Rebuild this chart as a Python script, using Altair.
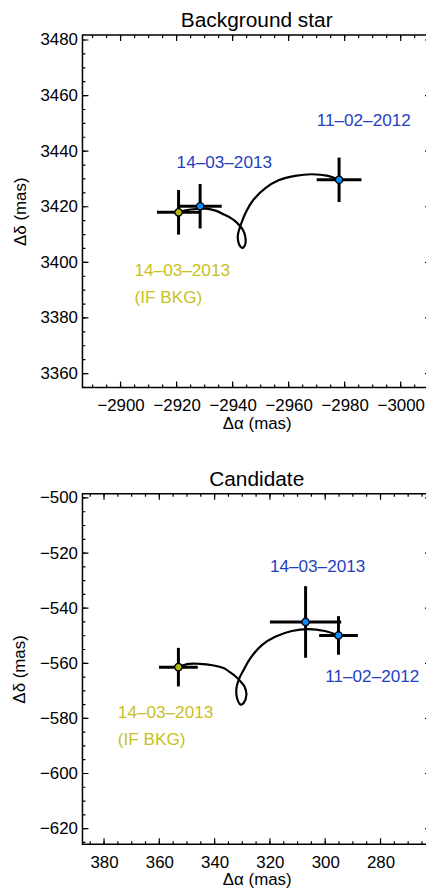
import altair as alt
import pandas as pd

FONT = "Liberation Sans"
BLUE_TXT = "#1f3fbf"
BLUE_PT = "#0a8cff"
YEL_TXT = "#c9c020"
YEL_PT = "#b5b51a"

W = 351

# ---------------- Background star ----------------
bg_title = "Background star"
bg_kind = ["obs", "obs", "bkg"]
bg_ra = [-2978.0, -2928.4, -2920.7]
bg_dec = [3429.7, 3420.2, 3418.0]
bg_ra_err = [8.0, 7.7, 7.7]
bg_dec_err = [8.0, 8.0, 8.0]

bg_track_ra = [-2977.9, -2974.1, -2968.2, -2962.3, -2956.4, -2951.7, -2947.5, -2945.0,
               -2943.6, -2942.7, -2941.9, -2942.0, -2942.7, -2943.6, -2944.5, -2944.5,
               -2943.6, -2941.5, -2939.4, -2936.9, -2933.9, -2930.4, -2926.8, -2923.3, -2920.7]
bg_track_dec = [3429.7, 3431.1, 3431.7, 3431.1, 3429.5, 3426.7, 3422.6, 3418.6,
                3415.4, 3412.9, 3410.0, 3407.5, 3405.8, 3405.2, 3406.5, 3409.3,
                3411.8, 3414.3, 3415.9, 3417.2, 3418.6, 3419.3, 3419.2, 3418.7, 3418.0]

bg_lbl_text = ["11–02–2012", "14–03–2013", "14–03–2013", "(IF BKG)"]
bg_lbl_kind = ["obs", "obs", "bkg", "bkg"]
bg_lbl_ra = [-2970.0, -2920.0, -2905.0, -2905.0]
bg_lbl_dec = [3450.7, 3435.8, 3396.9, 3387.0]

bg_xdom = [-3010.8, -2886.4]
bg_ydom = [3355.0, 3481.8]
bg_xticks = [-3000, -2980, -2960, -2940, -2920, -2900]
bg_yticks = [3360, 3380, 3400, 3420, 3440, 3460, 3480]
bg_xminor = list(range(-3010, -2885, 5))
bg_yminor = list(range(3355, 3481, 5))

# ---------------- Candidate ----------------
cd_title = "Candidate"
cd_kind = ["obs", "obs", "bkg"]
cd_ra = [295.2, 307.1, 353.1]
cd_dec = [-549.9, -545.0, -561.4]
cd_ra_err = [7.0, 12.9, 7.0]
cd_dec_err = [7.0, 13.0, 7.0]

cd_track_ra = [295.1, 300.1, 306.1, 312.1, 318.1, 322.9, 327.1, 329.5, 331.3, 332.1,
               331.9, 330.6, 329.5, 328.5, 329.2, 330.6, 332.4, 334.8, 336.6, 340.8,
               345.6, 349.2, 353.1]
cd_track_dec = [-549.9, -548.3, -547.6, -548.3, -550.4, -553.4, -558.2, -562.4, -566.0,
                -569.0, -572.6, -575.0, -574.4, -571.4, -568.4, -566.6, -564.8, -563.0,
                -561.8, -560.7, -560.2, -560.2, -561.2]

cd_lbl_text = ["14–03–2013", "11–02–2012", "14–03–2013", "(IF BKG)"]
cd_lbl_kind = ["obs", "obs", "bkg", "bkg"]
cd_lbl_ra = [320.0, 300.0, 375.0, 375.0]
cd_lbl_dec = [-525.0, -565.0, -578.0, -588.0]

cd_xdom = [261.75, 387.8]
cd_ydom = [-625.65, -498.45]
cd_xticks = [280, 300, 320, 340, 360, 380]
cd_yticks = [-620, -600, -580, -560, -540, -520, -500]
cd_xminor = list(range(265, 386, 5))
cd_yminor = list(range(-625, -499, 5))


def panel(title, H, kind, ra, dec, era, edec, tra, tdec, ltxt, lkind, lra, ldec,
          xdom, ydom, xticks, yticks, xminor, yminor):
    xs = alt.Scale(domain=xdom, reverse=True, nice=False, zero=False)
    ys = alt.Scale(domain=ydom, nice=False, zero=False)
    xax = alt.Axis(values=xticks, format="d", ticks=False, domain=False, grid=False,
                   labelPadding=10, titlePadding=2, labelFlush=False, title="Δα (mas)")
    yax = alt.Axis(values=yticks, format="d", ticks=False, domain=False, grid=False,
                   labelPadding=5, titlePadding=11, labelFlush=False, title="Δδ (mas)")

    pts = pd.DataFrame({"ra": ra, "dec": dec, "era": era, "edec": edec, "kind": kind})
    trk = pd.DataFrame({"ra": tra, "dec": tdec, "i": list(range(len(tra)))})
    lbl = pd.DataFrame({"ra": lra, "dec": ldec, "t": ltxt, "kind": lkind})

    track = alt.Chart(trk).mark_line(color="black", strokeWidth=2.2,
                                     interpolate="catmull-rom").encode(
        x=alt.X("ra:Q", scale=xs, axis=xax),
        y=alt.Y("dec:Q", scale=ys, axis=yax),
        order="i:Q",
    )
    ebx = alt.Chart(pts).transform_calculate(
        lo="datum.ra - datum.era", hi="datum.ra + datum.era"
    ).mark_rule(color="black", strokeWidth=3).encode(
        x=alt.X("lo:Q", scale=xs), x2="hi:Q", y=alt.Y("dec:Q", scale=ys)
    )
    eby = alt.Chart(pts).transform_calculate(
        lo="datum.dec - datum.edec", hi="datum.dec + datum.edec"
    ).mark_rule(color="black", strokeWidth=3).encode(
        x=alt.X("ra:Q", scale=xs), y=alt.Y("lo:Q", scale=ys), y2="hi:Q"
    )
    dots = alt.Chart(pts).mark_circle(size=55, stroke="black", strokeWidth=1.3,
                                      opacity=1).encode(
        x=alt.X("ra:Q", scale=xs), y=alt.Y("dec:Q", scale=ys),
        color=alt.condition(alt.datum.kind == "bkg", alt.value(YEL_PT), alt.value(BLUE_PT)),
    )
    texts = alt.Chart(lbl).mark_text(align="left", baseline="middle", fontSize=17.3,
                                     font=FONT).encode(
        x=alt.X("ra:Q", scale=xs), y=alt.Y("dec:Q", scale=ys), text="t:N",
        color=alt.condition(alt.datum.kind == "bkg", alt.value(YEL_TXT), alt.value(BLUE_TXT)),
    )
    ttl = alt.Chart(pd.DataFrame({"t": [title]})).mark_text(
        align="center", baseline="alphabetic", fontSize=21, font=FONT, color="black"
    ).encode(text="t:N", x=alt.value(W / 2), y=alt.value(-8))
    xmaj = alt.Chart(pd.DataFrame({"v": xticks})).mark_rule(
        color="black", strokeWidth=1.2, strokeDash=[6, H - 12]).encode(
        x=alt.X("v:Q", scale=xs), y=alt.value(0), y2=alt.value(H))
    xmin = alt.Chart(pd.DataFrame({"v": xminor})).mark_rule(
        color="black", strokeWidth=1.2, strokeDash=[3, H - 6]).encode(
        x=alt.X("v:Q", scale=xs), y=alt.value(0), y2=alt.value(H))
    ymaj = alt.Chart(pd.DataFrame({"v": yticks})).mark_rule(
        color="black", strokeWidth=1.2, strokeDash=[6, W - 12]).encode(
        y=alt.Y("v:Q", scale=ys), x=alt.value(0), x2=alt.value(W))
    ymin = alt.Chart(pd.DataFrame({"v": yminor})).mark_rule(
        color="black", strokeWidth=1.2, strokeDash=[3, W - 6]).encode(
        y=alt.Y("v:Q", scale=ys), x=alt.value(0), x2=alt.value(W))

    return alt.layer(track, ebx, eby, dots, texts, ttl, xmaj, xmin, ymaj, ymin).properties(
        width=W, height=H,
    )


top = panel(bg_title, 355, bg_kind, bg_ra, bg_dec, bg_ra_err, bg_dec_err,
            bg_track_ra, bg_track_dec, bg_lbl_text, bg_lbl_kind, bg_lbl_ra, bg_lbl_dec,
            bg_xdom, bg_ydom, bg_xticks, bg_yticks, bg_xminor, bg_yminor)
bot = panel(cd_title, 353, cd_kind, cd_ra, cd_dec, cd_ra_err, cd_dec_err,
            cd_track_ra, cd_track_dec, cd_lbl_text, cd_lbl_kind, cd_lbl_ra, cd_lbl_dec,
            cd_xdom, cd_ydom, cd_xticks, cd_yticks, cd_xminor, cd_yminor)

chart = alt.vconcat(top, bot, spacing=36).properties(
    padding={"left": 1, "top": -2, "right": -7, "bottom": 0}
).configure_view(stroke="black", strokeWidth=1.5).configure_axis(
    labelFont=FONT, titleFont=FONT, labelFontSize=17, titleFontSize=17,
    labelColor="black", titleColor="black", titleFontWeight="normal",
)

chart.save("out.html", embed_options={"renderer": "svg", "actions": False})
